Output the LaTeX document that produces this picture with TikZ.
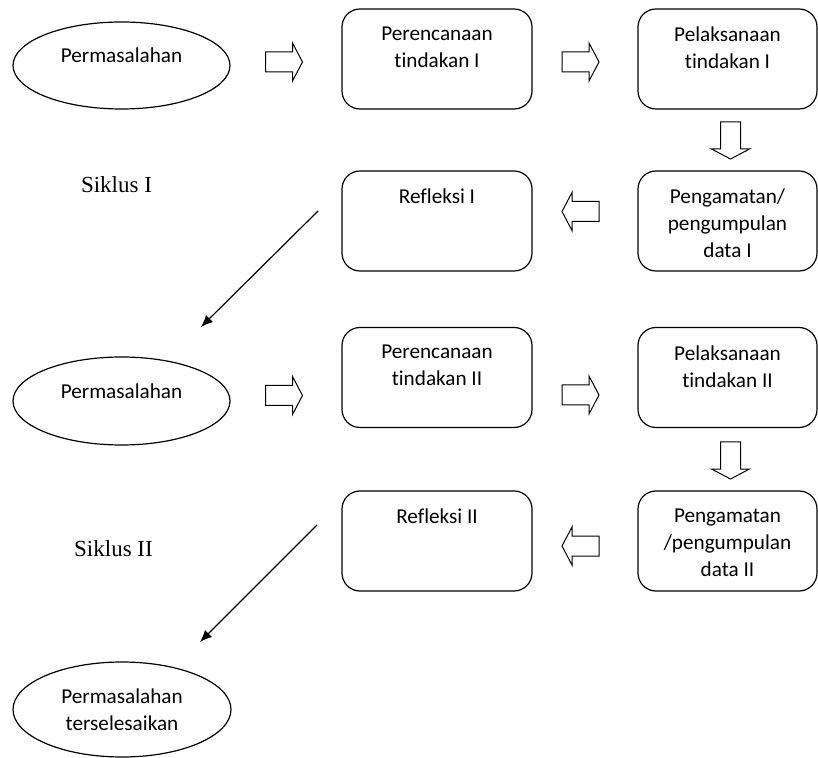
\documentclass[tikz,border=0pt]{standalone}
\usepackage{fontspec}
\setmainfont{Carlito}[Ligatures={NoCommon}]
\newfontfamily\siklusfont{Liberation Serif}
\usetikzlibrary{shapes.geometric, arrows.meta, calc}

\tikzset{
	blockarr/.pic={
		\draw[line width=0.5pt] (-18.5,-10) -- (8.5,-10) -- (8.5,-19) -- (18.5,0) -- (8.5,19) -- (8.5,10) -- (-18.5,10) -- cycle;
	}
}

\begin{document}
\begin{tikzpicture}[x=0.5pt, y=-0.5pt,
		font=\fontsize{10.6pt}{13.5pt}\selectfont,
		box/.style={draw, line width=0.6pt, rounded corners=9pt, minimum height=50pt},
		boxtext/.style={anchor=north, align=center, inner sep=0pt, yshift=-9pt},
		masalah/.style={draw, ellipse, line width=0.6pt, inner sep=0pt, align=center},
		siklus/.style={font=\siklusfont\fontsize{11.5pt}{13pt}\selectfont}]
			\useasboundingbox (0, 0) rectangle (818, 758);
			
			% siklus I
			\node[masalah, minimum width=108.5pt, minimum height=43.5pt,
				label={[yshift=5pt]center:Permasalahan}] (masalahA) at (121.5, 65.5) {};
			\node[box, minimum width=95pt, label={[boxtext]north:Perencanaan\\tindakan I}] (rencanaA) at (437, 59) {};
			\node[box, minimum width=89.5pt, label={[boxtext]north:Pelaksanaan\\tindakan I}] (laksanaA) at (727.5, 59) {};
			\node[box, minimum width=89.5pt, label={[boxtext]north:Pengamatan/\\pengumpulan\\data I}] (amatA) at (727.5, 221) {};
			\node[box, minimum width=95pt, label={[boxtext]north:Refleksi I}] (refleksiA) at (437, 221) {};
			\node[siklus] (siklusA) at (116.5, 185) {Siklus I};
			
			\pic at (284, 62) {blockarr};
			\pic at (580.5, 62) {blockarr};
			\pic[rotate=-90] at (730.5, 140.5) {blockarr};
			\pic[rotate=180] at (580.5, 211.5) {blockarr};
			
			% siklus II
			\node[masalah, minimum width=108.5pt, minimum height=44pt,
				label={[yshift=5pt]center:Permasalahan}] (masalahB) at (121.5, 401) {};
			\node[box, minimum width=95pt, label={[boxtext]north:Perencanaan\\tindakan II}] (rencanaB) at (437, 377.5) {};
			\node[box, minimum width=89.5pt, label={[boxtext]north:Pelaksanaan\\tindakan II}] (laksanaB) at (727.5, 377.5) {};
			\node[box, minimum width=89.5pt, label={[boxtext]north:Pengamatan\\/pengumpulan\\data II}] (amatB) at (727.5, 541) {};
			\node[box, minimum width=95pt, label={[boxtext]north:Refleksi II}] (refleksiB) at (437, 541) {};
			\node[siklus] (siklusB) at (113.5, 549) {Siklus II};
			
			\pic at (284, 395.5) {blockarr};
			\pic at (580.5, 395) {blockarr};
			\pic[rotate=-90] at (730.5, 460.5) {blockarr};
			\pic[rotate=180] at (580.5, 546) {blockarr};
			
			\node[masalah, minimum width=109pt, minimum height=47.5pt] (selesai) at (122, 709.5) {Permasalahan\\terselesaikan};
			
			% panah antar siklus
			\coordinate (startA) at (318, 211);
			\coordinate (endA) at (201, 327);
			\coordinate (startB) at (317, 525);
			\coordinate (endB) at (200, 642);
			\draw[line width=0.6pt, -{Latex[length=6pt, width=5pt]}] (startA) -- (endA);
			\draw[line width=0.6pt, -{Latex[length=6pt, width=5pt]}] (startB) -- (endB);
			
		\end{tikzpicture}
\end{document}
